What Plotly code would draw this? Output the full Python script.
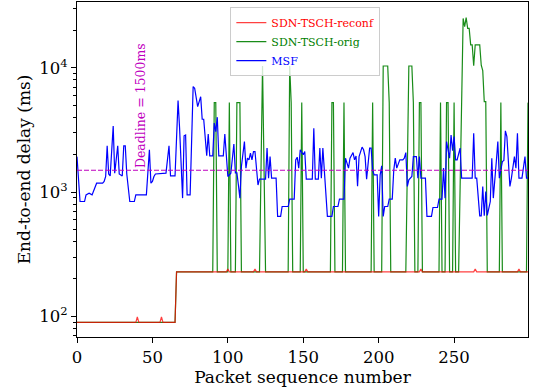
import math
import plotly.graph_objects as go

# ---------------- data ----------------
reconf_pts = [(0, 89.5), (39, 89.5), (40, 99), (41, 89.5), (55, 89.5), (56, 99), (57, 89.5),
              (65, 89.5), (66, 228.5), (99, 228.5), (100, 240), (101, 228.5), (117, 228.5),
              (118, 240), (119, 228.5), (151, 228.5), (152, 240), (153, 228.5), (227, 228.5),
              (228, 240), (229, 228.5), (263, 228.5), (264, 240), (265, 228.5), (292, 228.5),
              (293, 240), (294, 228.5), (299, 228.5)]

orig_pts = [(0, 89.5), (65, 89.5), (66, 228.5), (90, 228.5), (91, 5250), (92, 5250), (93, 228.5),
            (100, 228.5), (101, 5250), (102, 228.5), (105, 228.5), (106, 5250), (108, 5250),
            (109, 228.5), (121, 228.5), (122, 1550), (123, 10350), (124, 1550), (125, 228.5),
            (140, 228.5), (141, 10350), (142, 5250), (143, 228.5), (148, 228.5), (149, 5250),
            (150, 228.5), (168, 228.5), (169, 5250), (170, 5250), (171, 228.5), (176, 228.5),
            (177, 5250), (178, 228.5), (195, 228.5), (196, 5250), (197, 228.5), (202, 228.5),
            (203, 10350), (206, 10350), (207, 5250), (208, 228.5), (218, 228.5), (219, 1550),
            (220, 10350), (222, 10350), (223, 5250), (224, 228.5), (226, 228.5), (227, 5250),
            (228, 5250), (229, 228.5), (240, 228.5), (241, 5250), (242, 228.5), (244, 228.5),
            (245, 5250), (246, 5250), (247, 228.5), (249, 228.5), (250, 5250), (251, 228.5),
            (253, 228.5), (254, 1100), (255, 5200), (256, 25000), (257, 21500), (258, 25400),
            (259, 20800), (260, 20800), (261, 15300), (262, 15300), (263, 10400), (264, 15300),
            (267, 15300), (268, 10500), (269, 9500), (270, 5350), (271, 5350), (272, 228.5),
            (280, 228.5), (281, 5250), (282, 228.5), (298, 228.5), (299, 5250)]

msf_pts = [(0, 1930), (2, 840), (5, 840), (6, 950), (8, 980), (10, 950), (13, 1180), (17, 1180),
           (18, 1217), (19, 1335), (20, 2360), (21, 1400), (22, 1352), (24, 3410), (25, 1420),
           (27, 2360), (28, 1400), (30, 1350), (31, 2360), (32, 2360), (33, 1400), (35, 840),
           (38, 840), (39, 950), (46, 950), (48, 2190), (49, 1180), (50, 1220), (51, 1335),
           (52, 1400), (59, 1420), (61, 2360), (62, 1350), (65, 1350), (67, 5450), (68, 3300),
           (70, 895), (71, 2840), (72, 2880), (73, 950), (75, 950), (76, 2600), (77, 7060),
           (78, 6850), (80, 4870), (82, 5860), (83, 3860), (84, 3860), (86, 1960), (87, 2940),
           (88, 1960), (90, 1960), (91, 3590), (92, 3070), (93, 4010), (94, 1960), (97, 1960),
           (98, 2940), (99, 1960), (100, 1335), (102, 1420), (104, 2440), (105, 1430), (106, 1430),
           (107, 1145), (108, 895), (109, 1606), (111, 2550), (112, 1560), (113, 1875), (114, 1818),
           (115, 2055), (116, 1818), (117, 2120), (118, 2120), (120, 1140), (121, 1272), (125, 1272),
           (126, 2260), (127, 1296), (128, 1930), (129, 1296), (132, 1296), (133, 637), (135, 637),
           (136, 766), (140, 766), (141, 878), (144, 878), (145, 1818), (146, 1910), (147, 1560),
           (148, 2190), (150, 2000), (151, 2120), (152, 1272), (156, 1272), (157, 3270), (158, 1272),
           (160, 1272), (161, 2260), (162, 1296), (163, 2260), (164, 1420), (166, 637), (169, 637),
           (170, 766), (173, 766), (174, 878), (177, 878), (178, 1875), (180, 1560), (181, 1875),
           (183, 2080), (184, 1818), (185, 1950), (186, 1115), (187, 1930), (189, 2300), (190, 2190),
           (191, 1930), (192, 1272), (194, 2260), (195, 2260), (196, 1511), (197, 1377), (199, 1377),
           (200, 637), (201, 1377), (202, 1626), (203, 637), (204, 766), (206, 766), (207, 878),
           (209, 878), (210, 1500), (211, 1875), (212, 1560), (214, 1818), (216, 1818), (217, 1875),
           (218, 2080), (219, 1110), (220, 1255), (222, 1335), (223, 1930), (225, 1930), (226, 1296),
           (227, 1930), (228, 1296), (231, 1296), (232, 637), (235, 637), (236, 752), (239, 752),
           (240, 878), (242, 878), (243, 1560), (244, 895), (245, 2550), (246, 2120), (247, 1875),
           (248, 2885), (249, 2150), (250, 2800), (251, 1818), (252, 1818), (254, 2260), (255, 1296),
           (262, 1296), (263, 2980), (264, 1296), (265, 1296), (267, 645), (268, 645), (269, 1110),
           (270, 645), (271, 1011), (272, 650), (274, 840), (275, 1875), (276, 895), (278, 1763),
           (279, 2550), (280, 1296), (281, 1560), (282, 1763), (283, 1800), (284, 3110), (285, 2800),
           (287, 1110), (288, 1296), (290, 1930), (291, 1560), (292, 2980), (293, 1296), (295, 1296),
           (297, 1930), (298, 1296), (299, 1296)]

reconf_x = [p[0] for p in reconf_pts]
reconf_y = [p[1] for p in reconf_pts]
orig_x = [p[0] for p in orig_pts]
orig_y = [p[1] for p in orig_pts]
msf_x = [p[0] for p in msf_pts]
msf_y = [p[1] for p in msf_pts]

deadline_ms = 1500
x_max = 299
x_ticks = [0, 50, 100, 150, 200, 250]
y_ticks = [100, 1000, 10000]
y_ticktext = ["10<sup>2</sup>", "10<sup>3</sup>", "10<sup>4</sup>"]
y_minor = [70, 80, 90, 200, 300, 400, 500, 600, 700, 800, 900,
           2000, 3000, 4000, 5000, 6000, 7000, 8000, 9000, 20000, 30000]

FONT = "DejaVu Serif"

fig = go.Figure()
fig.add_trace(go.Scatter(x=orig_x, y=orig_y, mode="lines",
                         name='<span style="color:#008000">SDN-TSCH-orig</span>',
                         line=dict(color="#008000", width=1.2), opacity=0.9, legendrank=2))
fig.add_trace(go.Scatter(x=reconf_x, y=reconf_y, mode="lines",
                         name='<span style="color:#ff0000">SDN-TSCH-reconf</span>',
                         line=dict(color="#ff0000", width=1.2), opacity=0.75, legendrank=1))
fig.add_trace(go.Scatter(x=msf_x, y=msf_y, mode="lines",
                         name='<span style="color:#0000ff">MSF</span>',
                         line=dict(color="#0000ff", width=1.2), legendrank=3))
fig.add_trace(go.Scatter(x=[0, x_max], y=[deadline_ms, deadline_ms], mode="lines",
                         line=dict(color="#bf00bf", width=1.2, dash="5px,2px"),
                         showlegend=False))

fig.add_annotation(x=42, y=math.log10(deadline_ms), text="Deadline = 1500ms",
                   textangle=-90, xanchor="center", yanchor="bottom", showarrow=False,
                   font=dict(family=FONT, size=12.5, color="#bf00bf"))

fig.update_layout(
    width=536, height=392,
    margin=dict(l=77, r=8, t=2, b=55, autoexpand=False),
    paper_bgcolor="white", plot_bgcolor="white",
    font=dict(family=FONT, color="black", size=16.5),
    legend=dict(x=0.34, y=0.985, xanchor="left", yanchor="top",
                bgcolor="rgba(255,255,255,0.8)", bordercolor="#cccccc", borderwidth=1,
                font=dict(family=FONT, size=11), tracegroupgap=0, itemwidth=30),
)
fig.update_xaxes(range=[0, x_max], tickmode="array", tickvals=x_ticks, automargin=False,
                 ticks="outside", ticklen=5, tickwidth=1, tickcolor="black",
                 showline=True, mirror=True, linecolor="black", linewidth=1,
                 showgrid=False, zeroline=False,
                 title=dict(text="Packet sequence number", font=dict(size=17), standoff=4))
fig.update_yaxes(type="log", range=[1.834, 4.53], tickmode="array", tickvals=y_ticks,
                 automargin=False,
                 ticktext=y_ticktext, ticks="outside", ticklen=5, tickwidth=1, tickcolor="black",
                 minor=dict(tickmode="array", tickvals=y_minor, ticks="outside", ticklen=3,
                            tickwidth=1, tickcolor="black", showgrid=False),
                 showline=True, mirror=True, linecolor="black", linewidth=1,
                 showgrid=False, zeroline=False,
                 title=dict(text="End-to-end delay (ms)", font=dict(size=17), standoff=4))

fig.write_html("out.html", config={"displayModeBar": False},
               post_script="document.body.style.margin='0px';document.body.style.padding='0px';")
